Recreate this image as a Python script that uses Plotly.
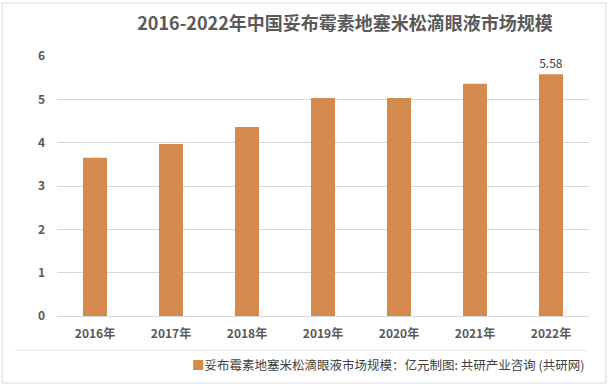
import plotly.graph_objects as go

years = ["2016年", "2017年", "2018年", "2019年", "2020年", "2021年", "2022年"]
market_size = [3.65, 3.97, 4.36, 5.03, 5.03, 5.36, 5.58]
value_labels = ["", "", "", "", "", "", "5.58"]
series_name = "妥布霉素地塞米松滴眼液市场规模：亿元"
source_text = "制图: 共研产业咨询 (共研网)"
title_text = "2016-2022年中国妥布霉素地塞米松滴眼液市场规模"
y_ticks = [0, 1, 2, 3, 4, 5, 6]

BAR = "#D38B4D"
FONT = "Noto Sans CJK SC"

fig = go.Figure()
fig.add_trace(go.Bar(
    x=years, y=market_size, name=series_name,
    marker=dict(color=BAR, line=dict(width=0)),
    text=value_labels, textposition="outside", cliponaxis=False,
    textfont=dict(family=FONT, size=12, color="#404040"),
    showlegend=False,
))

W, H = 613, 388
L, R, T, B = 57, 24, 56, 72
pw, ph = W - L - R, H - T - B

def px(x):
    return (x - L) / pw

def py(y):
    return (H - B - y) / ph

shapes = [
    dict(type="rect", xref="paper", yref="paper", x0=px(2), x1=px(606), y0=py(383), y1=py(3),
         line=dict(color="#D9D9D9", width=1), layer="below"),
    dict(type="line", xref="paper", yref="paper", x0=px(15), x1=px(587), y0=py(350), y1=py(350),
         line=dict(color="#E6E6E6", width=1), layer="below"),
]

fig.update_layout(
    width=W, height=H,
    margin=dict(l=L, r=R, t=T, b=B),
    paper_bgcolor="white", plot_bgcolor="white",
    bargap=0.684,
    font=dict(family=FONT, color="#595959"),
    title=dict(text=title_text, x=345 / W, xanchor="center", y=1 - 24 / H, yanchor="middle",
               xref="container", yref="container",
               font=dict(family=FONT, size=18, color="#595959", weight="bold")),
    xaxis=dict(showgrid=False, showline=True, linecolor="#D9D9D9", linewidth=1,
               ticks="", tickfont=dict(family=FONT, size=12, color="#595959", weight="bold"),
               ticklabelstandoff=7, fixedrange=True),
    yaxis=dict(range=[0, 6], tickvals=y_ticks, showgrid=True, gridcolor="#D9D9D9", gridwidth=1,
               zeroline=False, showline=False, ticks="",
               tickfont=dict(family=FONT, size=12, color="#595959", weight="bold"),
               ticklabelstandoff=11),
    shapes=shapes,
    annotations=[
        dict(xref="paper", yref="paper", x=px(190), y=py(364), xanchor="left", yanchor="middle",
             showarrow=False,
             text=f"<span style='color:{BAR}'>■</span>{series_name}{source_text}",
             font=dict(family=FONT, size=12.5, color="#404040")),
    ],
)

fig.write_html("out.html", config={"displayModeBar": False},
               post_script="document.body.style.margin='0';document.body.style.padding='0';")
